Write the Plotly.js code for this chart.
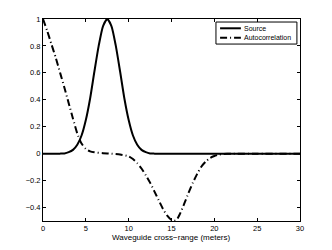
<!DOCTYPE html>
<html>
<head>
<meta charset="utf-8">
<script src="https://cdn.plot.ly/plotly-3.0.1.min.js"></script>
<style>html,body{margin:0;padding:0;background:#fff}#chart{width:332px;height:250px}</style>
</head>
<body>
<div id="chart"></div>
<script>
// Source pulse, peak near x = 7.5
const sourceX = [0, 1, 2, 2.5, 3, 3.5, 4, 4.5, 5, 5.5, 6, 6.5, 7, 7.5, 8, 8.5, 9, 9.5, 10, 10.5, 11, 11.5, 12, 12.5, 13, 14, 16, 20, 25, 30];
const sourceY = [0, 0, 0.0003, 0.002, 0.011, 0.028, 0.066, 0.135, 0.25, 0.41, 0.61, 0.80, 0.946, 1.0, 0.946, 0.80, 0.61, 0.41, 0.25, 0.135, 0.066, 0.028, 0.011, 0.002, 0.0003, 0, 0, 0, 0, 0];
// Autocorrelation
const acX = [0, 0.5, 1, 1.5, 2, 2.5, 3, 3.5, 4, 4.5, 5, 5.5, 6, 7, 8, 9, 10, 10.5, 11, 11.5, 12, 12.5, 13, 13.5, 14, 14.5, 15, 15.3, 15.6, 16, 16.5, 17, 17.5, 18, 18.5, 19, 19.5, 20, 20.5, 21, 21.5, 22, 25, 30];
const acY = [1, 0.91, 0.81, 0.71, 0.60, 0.49, 0.375, 0.26, 0.15, 0.075, 0.035, 0.017, 0.01, 0.004, 0.0, -0.006, -0.02, -0.04, -0.07, -0.11, -0.16, -0.215, -0.28, -0.345, -0.41, -0.46, -0.492, -0.498, -0.492, -0.445, -0.37, -0.29, -0.215, -0.15, -0.095, -0.058, -0.032, -0.017, -0.008, -0.003, -0.001, 0, 0, 0];

const seriesNames = ['Source', 'Autocorrelation'];
const xTicks = [0, 5, 10, 15, 20, 25, 30];
const yTicks = [-0.4, -0.2, 0, 0.2, 0.4, 0.6, 0.8, 1];
const yTickText = ['\u22120.4', '\u22120.2', '0', '0.2', '0.4', '0.6', '0.8', '1'];
const xTitle = 'Waveguide cross\u2212range (meters)';

const FONT = 'Liberation Sans, Arial, sans-serif';
const dashes = ['solid', '7px,3px,1px,3px'];

const traces = [
  {x: sourceX, y: sourceY, name: seriesNames[0], mode: 'lines', line: {color: '#000', width: 2, shape: 'spline', smoothing: 0.6}},
  {x: acX, y: acY, name: seriesNames[1], mode: 'lines', line: {color: '#000', width: 2, dash: dashes[1], shape: 'spline', smoothing: 0.6}}
];

const axisCommon = {
  showgrid: false, zeroline: false, showline: true, linecolor: '#000', linewidth: 1,
  mirror: 'ticks', ticks: 'inside', ticklen: 3, tickcolor: '#000',
  tickfont: {family: FONT, size: 7.5, color: '#000'}
};

// compact MATLAB-style legend box built in paper coordinates
const legRows = [0.954, 0.907];
const shapes = [
  {type: 'rect', xref: 'paper', yref: 'paper', x0: 0.673, x1: 0.988, y0: 0.876, y1: 0.985,
   line: {color: '#000', width: 1}, fillcolor: '#fff', layer: 'above'}
];
const annotations = [];
seriesNames.forEach((nm, i) => {
  shapes.push({type: 'line', xref: 'paper', yref: 'paper', x0: 0.689, x1: 0.770, y0: legRows[i], y1: legRows[i],
    line: {color: '#000', width: 2, dash: dashes[i]}, layer: 'above'});
  annotations.push({xref: 'paper', yref: 'paper', x: 0.774, y: legRows[i], xanchor: 'left', yanchor: 'middle',
    text: nm, showarrow: false, font: {family: FONT, size: 7, color: '#000'}});
});
// x axis title
annotations.push({xref: 'paper', yref: 'paper', x: 0.5, y: -0.084, xanchor: 'center', yanchor: 'middle',
  text: xTitle, showarrow: false, font: {family: FONT, size: 8, color: '#000'}, borderpad: 0});

const layout = {
  width: 332, height: 250,
  margin: {l: 43, r: 32, t: 19, b: 29},
  paper_bgcolor: '#fff', plot_bgcolor: '#fff',
  showlegend: false,
  shapes: shapes,
  annotations: annotations,
  xaxis: Object.assign({}, axisCommon, {range: [0, 30], tickvals: xTicks, ticktext: xTicks.map(String)}),
  yaxis: Object.assign({}, axisCommon, {range: [-0.5, 1], tickvals: yTicks, ticktext: yTickText})
};

Plotly.newPlot('chart', traces, layout, {displayModeBar: false, staticPlot: true});
</script>
</body>
</html>
